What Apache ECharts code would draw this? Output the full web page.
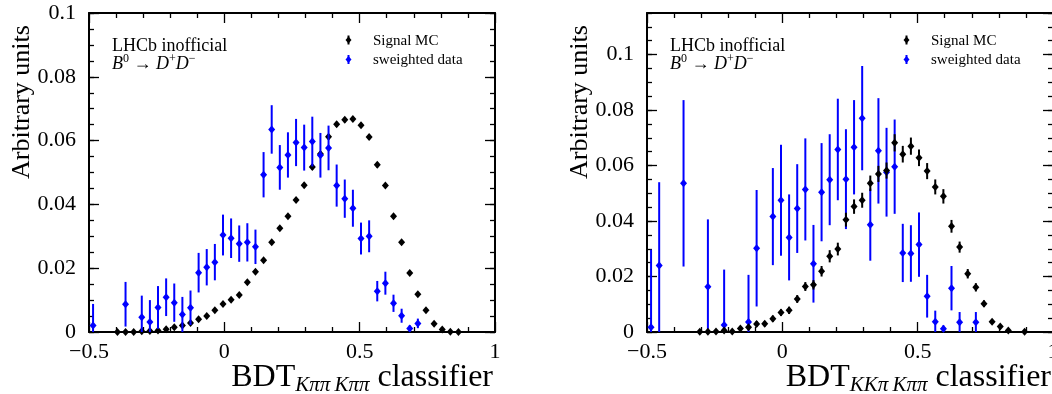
<!DOCTYPE html>
<html><head><meta charset="utf-8">
<script src="https://cdn.jsdelivr.net/npm/echarts@6/dist/echarts.min.js"></script>
<style>html,body{margin:0;padding:0;background:#fff}#c{width:1052px;height:394px}</style>
</head><body><div id="c"></div>
<script>
// Histogram binning: 50 bins from -0.5 to 1
const binLow = -0.5, binWidth = 0.03, nBins = 50;
const xTickLabels = ['-0.5', '0', '0.5', '1'];
const yTickLabels = ['0', '0.02', '0.04', '0.06', '0.08', '0.1'];
const seriesNames = ['Signal MC', 'sweighted data'];

// Left panel: BDT_{KππKππ}
const leftMC = [null,null,null,0,0,0,0.0002,0.0003,0.0005,0.0009,
 0.0015,0.002,0.0028,0.004,0.005,0.0068,0.0088,0.0101,0.0116,0.0156,
 0.0189,0.0225,0.0281,0.0325,0.0363,0.0414,0.046,0.0517,0.0558,0.0612,
 0.0651,0.0665,0.0668,0.0648,0.0611,0.0524,0.0459,0.0363,0.0281,0.0185,
 0.0118,0.0068,0.0026,0.0008,0.0001,0,null,null,null,null];
const leftMCErr = [null,null,null,0.0001,0.0001,0.0001,0.0001,0.0001,0.0002,0.0002,
 0.0002,0.0003,0.0003,0.0003,0.0004,0.0004,0.0004,0.0005,0.0005,0.0005,
 0.0006,0.0006,0.0006,0.0007,0.0007,0.0007,0.0008,0.0008,0.0008,0.0008,
 0.0008,0.0008,0.0008,0.0008,0.0008,0.0008,0.0007,0.0007,0.0006,0.0005,
 0.0004,0.0003,0.0002,0.0001,0.0001,0.0001,null,null,null,null];
const leftData = [0.002,null,null,null,0.0087,null,0.0046,0.0031,0.0077,0.0109,
 0.0092,0.0055,0.0076,0.0186,0.0203,0.0219,0.0304,0.0294,0.0277,0.0281,
 0.0267,0.0493,0.0635,0.0516,0.0555,0.0594,0.0578,0.0597,0.0554,0.0577,
 0.0459,0.0418,0.0388,0.0293,0.03,0.0128,0.0153,0.009,0.0051,0.0011,
 0.0027,null,null,null,null,null,null,null,null,null];
const leftDataErr = [0.0068,null,null,null,0.007,null,0.0068,0.0069,0.0067,0.0059,
 0.006,0.0055,0.0054,0.0062,0.0057,0.0057,0.0064,0.0062,0.0057,0.006,
 0.0054,0.0071,0.0076,0.007,0.0071,0.0074,0.0072,0.0078,0.007,0.007,
 0.0066,0.006,0.0058,0.005,0.005,0.0032,0.0036,0.0027,0.0022,0.001,
 0.0015,null,null,null,null,null,null,null,null,null];

// Right panel: BDT_{KKπKππ}
const rightMC = [null,null,null,null,null,null,0.0001,0.0001,0.0002,0.0005,
 0.0002,0.0013,0.0017,0.0029,0.003,0.0048,0.007,0.0078,0.0119,0.0164,
 0.017,0.0219,0.0273,0.0299,0.0405,0.0452,0.0475,0.0536,0.057,0.0582,
 0.0682,0.0641,0.067,0.0628,0.058,0.0523,0.0489,0.0381,0.0306,0.021,
 0.0161,0.0102,0.0037,0.002,0.0005,null,0.0001,null,null,null];
const rightMCErr = [null,null,null,null,null,null,0.0005,0.0005,0.0005,0.0006,
 0.0005,0.0007,0.0008,0.001,0.001,0.0011,0.0012,0.0013,0.0014,0.0016,
 0.0017,0.0019,0.0022,0.0023,0.0025,0.0026,0.0027,0.0028,0.0029,0.0029,
 0.0031,0.003,0.0031,0.003,0.0029,0.0027,0.0026,0.0023,0.002,0.0017,
 0.0015,0.0012,0.0007,0.0005,0.0003,null,0.0002,null,null,null];
const rightData = [0.0017,0.024,null,null,0.0536,null,null,0.0163,null,0.0025,
 null,null,0.0036,0.0302,null,0.0416,0.0475,0.0341,0.0445,0.0514,
 0.0246,0.0504,0.0549,0.0658,0.0551,0.0666,0.0771,0.0387,0.0653,0.0576,
 0.0596,0.0285,0.0283,0.0315,0.0129,0.0037,0.0012,0.0158,0.0035,null,
 0.0035,null,null,null,null,null,null,null,null,null];
const rightDataErr = [0.028,0.03,null,null,0.03,null,null,0.0243,null,0.02,
 null,null,0.017,0.021,null,0.0175,0.02,0.0155,0.016,0.0184,
 0.014,0.0177,0.0164,0.0183,0.018,0.017,0.0188,0.013,0.019,0.016,
 0.017,0.0105,0.0102,0.0116,0.0077,0.004,0.0012,0.008,0.0037,null,
 0.0037,null,null,null,null,null,null,null,null,null];

const binCenters = [];
for (let i = 0; i < nBins; i++) binCenters.push(binLow + binWidth * (i + 0.5));

const FONT = 'Liberation Serif';
const BLUE = '#0000ff', BLACK = '#000000';
const panels = [
  {left: 89, yMax: 0.1, mc: leftMC, mcErr: leftMCErr, d: leftData, dErr: leftDataErr, sub: 'K\u03c0\u03c0\u2009K\u03c0\u03c0', dataOnTop: true},
  {left: 647, yMax: 0.115, mc: rightMC, mcErr: rightMCErr, d: rightData, dErr: rightDataErr, sub: 'KK\u03c0\u2009K\u03c0\u03c0', dataOnTop: false}
];
const TOP = 13, W = 406, H = 319;

function toPoints(vals, errs) {
  const out = [];
  vals.forEach((v, i) => { if (v !== null) out.push([binCenters[i], v, errs[i]]); });
  return out;
}
function errRender(color, yMax) {
  return function (params, api) {
    const x = api.value(0), y = api.value(1), e = api.value(2);
    const lo = Math.max(0, y - e), hi = Math.min(yMax, y + e);
    const c = api.coord([x, y]);
    const pLo = api.coord([x, lo]), pHi = api.coord([x, hi]);
    return {type: 'group', children: [
      {type: 'line', shape: {x1: c[0], y1: pLo[1], x2: c[0], y2: pHi[1]}, style: {stroke: color, lineWidth: 2}},
      {type: 'polygon', shape: {points: [[c[0] - 3.5, c[1]], [c[0], c[1] - 4], [c[0] + 3.5, c[1]], [c[0], c[1] + 4]]}, style: {fill: color}}
    ]};
  };
}
const tickStyle = {color: '#000', width: 1.3};
const grids = [], xAxes = [], yAxes = [], series = [], graphics = [];
panels.forEach((p, g) => {
  grids.push({left: p.left, top: TOP, width: W, height: H, outerBoundsMode: 'none', containLabel: false});
  const xBase = {gridIndex: g, type: 'value', min: -0.5, max: 1, interval: 0.5,
    axisLine: {show: true, onZero: false, lineStyle: {color: '#000', width: 2}},
    axisTick: {show: true, inside: true, length: 10, lineStyle: tickStyle},
    minorTick: {show: true, splitNumber: 5, length: 5, lineStyle: tickStyle},
    splitLine: {show: false}, minorSplitLine: {show: false}};
  xAxes.push(Object.assign({}, xBase, {position: 'bottom',
    axisLabel: {show: true, margin: 9, fontFamily: FONT, fontSize: 22, color: '#000', hideOverlap: false,
      formatter: v => { const k = [-0.5, 0, 0.5, 1].indexOf(Math.round(v * 10) / 10); return k >= 0 ? xTickLabels[k].replace('-', '\u2212') : ''; }}}));
  xAxes.push(Object.assign({}, xBase, {position: 'top', axisLabel: {show: false}}));
  const yBase = {gridIndex: g, type: 'value', min: 0, max: p.yMax, splitLine: {show: false}};
  const lineOn = {show: true, onZero: false, lineStyle: {color: '#000', width: 2}};
  const lineOff = {show: false, onZero: false};
  const yMajorIdx = yAxes.length;
  yAxes.push(Object.assign({}, yBase, {position: 'left', interval: 0.02, axisLine: lineOn,
    axisTick: {show: true, inside: true, length: 10, lineStyle: tickStyle},
    axisLabel: {show: true, margin: 13, fontFamily: FONT, fontSize: 22, color: '#000', showMaxLabel: p.yMax <= 0.1,
      formatter: v => { const k = Math.round(v / 0.02); return (Math.abs(v - k * 0.02) < 1e-9 && k <= 5) ? yTickLabels[k] : ''; }}}));
  yAxes.push(Object.assign({}, yBase, {position: 'left', interval: 0.005, axisLine: lineOff,
    axisTick: {show: true, inside: true, length: 5, lineStyle: tickStyle}, axisLabel: {show: false}}));
  yAxes.push(Object.assign({}, yBase, {position: 'right', interval: 0.02, axisLine: lineOn,
    axisTick: {show: true, inside: true, length: 10, lineStyle: tickStyle}, axisLabel: {show: false}}));
  yAxes.push(Object.assign({}, yBase, {position: 'right', interval: 0.005, axisLine: lineOff,
    axisTick: {show: true, inside: true, length: 5, lineStyle: tickStyle}, axisLabel: {show: false}}));

  const mcS = {name: seriesNames[0], type: 'custom', xAxisIndex: g * 2, yAxisIndex: yMajorIdx,
    renderItem: errRender(BLACK, p.yMax), data: toPoints(p.mc, p.mcErr), clip: false};
  const dS = {name: seriesNames[1], type: 'custom', xAxisIndex: g * 2, yAxisIndex: yMajorIdx,
    renderItem: errRender(BLUE, p.yMax), data: toPoints(p.d, p.dErr), clip: false};
  if (p.dataOnTop) { series.push(mcS, dS); } else { series.push(dS, mcS); }

  const ox = p.left;
  graphics.push(
    {type: 'text', x: ox + 23, y: 46, style: {text: 'LHCb inofficial', font: '18px "' + FONT + '"', fill: '#000', verticalAlign: 'middle'}},
    {type: 'text', x: ox + 23, y: 64, style: {
      text: '{i|B}{s|0}{n| \u2192 }{i|D}{s|+}{i|D}{s|\u2212}', fill: '#000', verticalAlign: 'middle',
      rich: {i: {fontFamily: FONT, fontSize: 18, fontStyle: 'italic', lineHeight: 22},
             n: {fontFamily: FONT, fontSize: 18, lineHeight: 22},
             s: {fontFamily: FONT, fontSize: 12, lineHeight: 12, verticalAlign: 'top'}}}},
    {type: 'text', x: ox - 67, y: 102, rotation: Math.PI / 2, style: {text: 'Arbitrary units', font: '26px "' + FONT + '"', fill: '#000', align: 'center', verticalAlign: 'middle'}},
    {type: 'text', x: ox + 404, y: 378, style: {
      text: '{n|BDT}{s|' + p.sub + '}{n| classifier}', fill: '#000', align: 'right', verticalAlign: 'middle',
      rich: {n: {fontFamily: FONT, fontSize: 32, lineHeight: 36},
             s: {fontFamily: FONT, fontSize: 21, fontStyle: 'italic', lineHeight: 10, verticalAlign: 'bottom'}}}}
  );
  // legend
  [[BLACK, 40, seriesNames[0]], [BLUE, 59.5, seriesNames[1]]].forEach(([col, ly, txt]) => {
    const mx = ox + 259.5;
    graphics.push(
      {type: 'line', shape: {x1: mx, y1: ly - 4.5, x2: mx, y2: ly + 4.5}, style: {stroke: col, lineWidth: 2}},
      {type: 'polygon', shape: {points: [[mx - 3, ly], [mx, ly - 3.5], [mx + 3, ly], [mx, ly + 3.5]]}, style: {fill: col}},
      {type: 'text', x: ox + 284, y: ly + 1, style: {text: txt, font: '15px "' + FONT + '"', fill: '#000', verticalAlign: 'middle'}}
    );
  });
});

const chart = echarts.init(document.getElementById('c'), null, {renderer: 'canvas'});
chart.setOption({
  animation: false, backgroundColor: '#fff',
  grid: grids, xAxis: xAxes, yAxis: yAxes, series: series, graphic: graphics
});
</script></body></html>
